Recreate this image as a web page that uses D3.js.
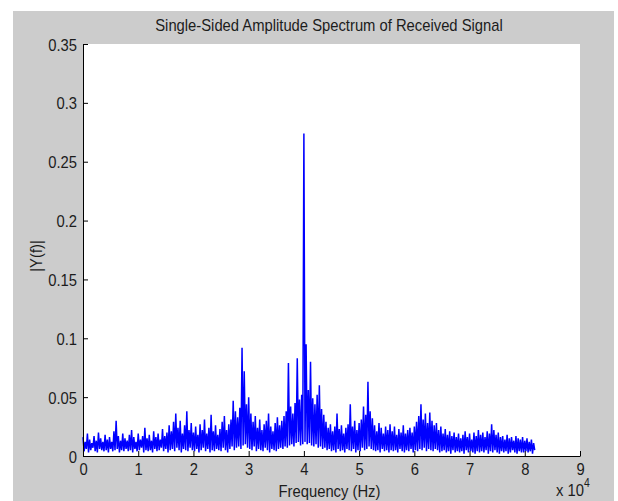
<!DOCTYPE html>
<html>
<head>
<meta charset="utf-8">
<script src="https://cdn.jsdelivr.net/npm/d3@7"></script>
<style>
  html, body { margin: 0; padding: 0; background: #ffffff; }
  svg { display: block; }
  text { font-family: "Liberation Sans", Arial, Helvetica, sans-serif; fill: #1c1c1c; }
</style>
</head>
<body>
<script>
// Spectrum bins: 400 Hz wide, starting at 0 Hz.
const binWidthHz = 400;

// Upper envelope of |Y(f)| in each bin.
const peakAmp = [
  0.016, 0.012, 0.019, 0.014, 0.011, 0.017, 0.013, 0.020, 0.015, 0.012,
  0.018, 0.014, 0.016, 0.012, 0.021, 0.030, 0.017, 0.013, 0.019, 0.015,
  0.013, 0.018, 0.022, 0.016, 0.012, 0.019, 0.014, 0.017, 0.024, 0.015,
  0.018, 0.013, 0.021, 0.016, 0.019, 0.014, 0.023, 0.017, 0.020, 0.026,
  0.021, 0.029, 0.036, 0.024, 0.030, 0.019, 0.026, 0.038, 0.022, 0.028,
  0.020, 0.025, 0.018, 0.027, 0.022, 0.031, 0.019, 0.024, 0.035, 0.021,
  0.026, 0.018, 0.023, 0.029, 0.034, 0.022, 0.027, 0.031, 0.047, 0.038,
  0.033, 0.041, 0.092, 0.072, 0.044, 0.050, 0.036, 0.029, 0.034, 0.024,
  0.031, 0.022, 0.027, 0.030, 0.036, 0.025, 0.021, 0.028, 0.033, 0.026,
  0.030, 0.034, 0.038, 0.079, 0.042, 0.036, 0.045, 0.083, 0.048, 0.052,
  0.274, 0.095, 0.056, 0.080, 0.049, 0.044, 0.052, 0.060, 0.040, 0.035,
  0.029, 0.024, 0.027, 0.021, 0.025, 0.036, 0.023, 0.026, 0.019, 0.024,
  0.027, 0.044, 0.025, 0.030, 0.022, 0.028, 0.031, 0.042, 0.035, 0.063,
  0.038, 0.032, 0.026, 0.021, 0.028, 0.024, 0.019, 0.025, 0.022, 0.027,
  0.021, 0.025, 0.018, 0.023, 0.020, 0.026, 0.019, 0.022, 0.024, 0.020,
  0.025, 0.029, 0.034, 0.044, 0.031, 0.036, 0.028, 0.037, 0.030, 0.026,
  0.028, 0.022, 0.025, 0.019, 0.023, 0.018, 0.021, 0.017, 0.020, 0.016,
  0.019, 0.015, 0.018, 0.021, 0.016, 0.019, 0.014, 0.020, 0.017, 0.022,
  0.018, 0.020, 0.016, 0.021, 0.019, 0.027, 0.022, 0.018, 0.020, 0.016,
  0.017, 0.014, 0.018, 0.015, 0.016, 0.013, 0.017, 0.015, 0.014, 0.016,
  0.013, 0.015, 0.012, 0.014, 0.011
];

// Lower envelope of |Y(f)| in each bin.
const troughAmp = [
  0.004, 0.006, 0.003, 0.005, 0.007, 0.004, 0.003, 0.006, 0.005, 0.004,
  0.005, 0.003, 0.006, 0.004, 0.005, 0.006, 0.003, 0.005, 0.004, 0.006,
  0.004, 0.005, 0.003, 0.006, 0.004, 0.005, 0.007, 0.003, 0.005, 0.004,
  0.005, 0.003, 0.006, 0.004, 0.005, 0.007, 0.004, 0.006, 0.003, 0.005,
  0.006, 0.004, 0.007, 0.005, 0.003, 0.006, 0.005, 0.004, 0.007, 0.005,
  0.004, 0.006, 0.003, 0.005, 0.007, 0.004, 0.006, 0.003, 0.005, 0.004,
  0.006, 0.005, 0.004, 0.007, 0.005, 0.003, 0.006, 0.008, 0.005, 0.007,
  0.008, 0.006, 0.009, 0.010, 0.007, 0.006, 0.005, 0.008, 0.004, 0.006,
  0.005, 0.004, 0.007, 0.005, 0.003, 0.006, 0.005, 0.004, 0.006, 0.007,
  0.006, 0.008, 0.007, 0.009, 0.010, 0.008, 0.011, 0.012, 0.009, 0.010,
  0.012, 0.010, 0.011, 0.009, 0.008, 0.010, 0.007, 0.008, 0.006, 0.007,
  0.005, 0.006, 0.004, 0.005, 0.003, 0.006, 0.004, 0.005, 0.003, 0.006,
  0.005, 0.004, 0.006, 0.003, 0.005, 0.004, 0.007, 0.005, 0.006, 0.008,
  0.006, 0.005, 0.004, 0.005, 0.003, 0.006, 0.004, 0.005, 0.003, 0.005,
  0.004, 0.005, 0.003, 0.006, 0.004, 0.003, 0.005, 0.004, 0.006, 0.003,
  0.005, 0.004, 0.006, 0.005, 0.007, 0.004, 0.006, 0.005, 0.004, 0.006,
  0.005, 0.003, 0.004, 0.005, 0.003, 0.004, 0.002, 0.005, 0.003, 0.004,
  0.003, 0.004, 0.002, 0.005, 0.003, 0.004, 0.003, 0.002, 0.004, 0.003,
  0.004, 0.003, 0.005, 0.002, 0.004, 0.003, 0.005, 0.003, 0.002, 0.004,
  0.003, 0.004, 0.002, 0.003, 0.005, 0.003, 0.002, 0.004, 0.003, 0.003,
  0.004, 0.003, 0.004, 0.002, 0.005
];

const yTickValues = [0, 0.05, 0.1, 0.15, 0.2, 0.25, 0.3, 0.35];
const yTickLabels = ["0", "0.05", "0.1", "0.15", "0.2", "0.25", "0.3", "0.35"];
const xTickValues = [0, 10000, 20000, 30000, 40000, 50000, 60000, 70000, 80000, 90000];
const xTickLabels = ["0", "1", "2", "3", "4", "5", "6", "7", "8", "9"];

const titleText = "Single-Sided Amplitude Spectrum of Received Signal";
const xLabelText = "Frequency (Hz)";
const yLabelText = "|Y(f)|";

const W = 618, H = 501;
const plot = { left: 83, right: 580, top: 44, bottom: 456 };
const FS = 17, SX = 0.87; // font size and horizontal squeeze of the figure text

const svg = d3.select("body").append("svg")
  .attr("width", W).attr("height", H);

// figure window background
svg.append("rect").attr("x", 13).attr("y", 11).attr("width", 601).attr("height", H - 11)
  .attr("fill", "#cccccc");

// axes background
svg.append("rect")
  .attr("x", plot.left).attr("y", plot.top)
  .attr("width", plot.right - plot.left).attr("height", plot.bottom - plot.top)
  .attr("fill", "#ffffff");

const x = d3.scaleLinear().domain([0, 90000]).range([plot.left, plot.right]);
const y = d3.scaleLinear().domain([0, 0.35]).range([plot.bottom, plot.top]);

// Interleave the two envelopes so the trace swings between them within each bin.
const trace = [];
peakAmp.forEach((v, i) => {
  const f0 = i * binWidthHz;
  trace.push([f0, v]);
  trace.push([f0 + binWidthHz / 2, troughAmp[i]]);
});

const line = d3.line().x(d => x(d[0])).y(d => y(d[1]));

svg.append("path")
  .datum(trace)
  .attr("d", line)
  .attr("fill", "none")
  .attr("stroke", "#0000ff")
  .attr("stroke-width", 1.5)
  .attr("stroke-linejoin", "miter")
  .attr("stroke-miterlimit", 2);

// axes with inward ticks
const yAxis = d3.axisLeft(y).tickValues(yTickValues)
  .tickFormat((d, i) => yTickLabels[i]).tickSizeInner(-5).tickSizeOuter(0).tickPadding(0);
const xAxis = d3.axisBottom(x).tickValues(xTickValues)
  .tickFormat((d, i) => xTickLabels[i]).tickSizeInner(-5).tickSizeOuter(0).tickPadding(0);

const gy = svg.append("g").attr("transform", `translate(${plot.left},0)`).call(yAxis);
const gx = svg.append("g").attr("transform", `translate(0,${plot.bottom})`).call(xAxis);

[gx, gy].forEach(g => {
  g.select(".domain").attr("stroke", "#000000");
  g.selectAll(".tick line").attr("stroke", "#000000");
  g.selectAll(".tick text").attr("font-size", FS).attr("fill", "#1c1c1c");
});

gy.selectAll(".tick text")
  .attr("x", null).attr("dy", null)
  .attr("transform", `translate(-6,6) scale(${SX},1)`)
  .attr("text-anchor", "end");

gx.selectAll(".tick text")
  .attr("y", null).attr("dy", null)
  .attr("transform", `translate(0,19) scale(${SX},1)`)
  .attr("text-anchor", "middle");

function label(txt, tx, ty, extra) {
  return svg.append("text")
    .attr("transform", `translate(${tx},${ty}) ${extra || ""} scale(${SX},1)`)
    .attr("text-anchor", "middle")
    .attr("font-size", FS)
    .text(txt);
}

label(titleText, 329, 31);
label(xLabelText, 329.5, 497);
label(yLabelText, 42, 256, "rotate(-90)");

// exponent of the frequency axis
const expo = svg.append("text")
  .attr("transform", `translate(556,496) scale(${SX},1)`)
  .attr("font-size", FS);
expo.append("tspan").text("x 10");
expo.append("tspan").attr("font-size", 12).attr("dy", -9).text("4");
</script>
</body>
</html>
